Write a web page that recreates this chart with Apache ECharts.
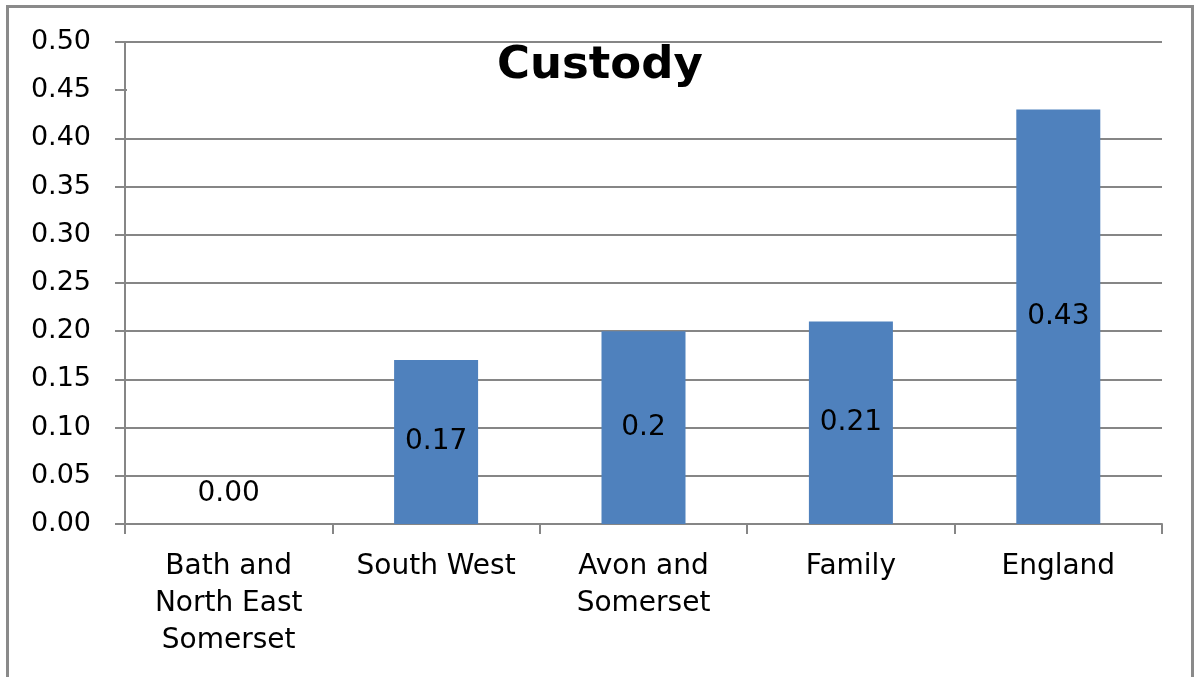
<!DOCTYPE html>
<html>
<head>
<meta charset="utf-8">
<script src="https://cdn.jsdelivr.net/npm/echarts@6/dist/echarts.min.js"></script>
<style>
  html, body { margin: 0; padding: 0; background: #fff; }
  #frame {
    position: absolute; left: 6px; top: 5px; width: 1188px; height: 690px;
    border: 3px solid #8a8a8a; box-sizing: border-box;
  }
  #chart { position: absolute; left: 0; top: 0; width: 1203px; height: 677px; }
</style>
</head>
<body>
<div id="frame"></div>
<div id="chart"></div>
<script>
const categories = ['Bath and\nNorth East\nSomerset', 'South West', 'Avon and\nSomerset', 'Family', 'England'];
const custodyValues = [0.00, 0.17, 0.2, 0.21, 0.43];
const valueLabels = ['0.00', '0.17', '0.2', '0.21', '0.43'];

const FONT = 'DejaVu Sans';

const chart = echarts.init(document.getElementById('chart'));
chart.setOption({
  animation: false,
  backgroundColor: 'transparent',
  // the title box is white and spans the plot width, hiding the 0.45 gridline as in the original
  title: {
    text: 'Custody',
    left: 127,
    top: 44,
    padding: [0, 466, 6, 370],
    backgroundColor: '#fff',
    textStyle: { fontFamily: FONT, fontSize: 45, fontWeight: 'bold', color: '#000' }
  },
  grid: { left: 125, right: 41, top: 42, bottom: 153, containLabel: false },
  xAxis: {
    type: 'category',
    data: categories,
    axisLine: { lineStyle: { color: '#868686', width: 2 } },
    axisTick: { show: true, length: 10, lineStyle: { color: '#868686', width: 2 } },
    axisLabel: {
      fontFamily: FONT, fontSize: 28, color: '#000', lineHeight: 37, margin: 24, interval: 0
    }
  },
  yAxis: {
    type: 'value',
    min: 0,
    max: 0.5,
    interval: 0.05,
    axisLine: { show: true, lineStyle: { color: '#868686', width: 2 } },
    axisTick: { show: true, length: 10, lineStyle: { color: '#868686', width: 2 } },
    splitLine: { lineStyle: { color: '#868686', width: 2 } },
    axisLabel: {
      fontFamily: FONT, fontSize: 27, color: '#000', margin: 34,
      formatter: v => v.toFixed(2)
    }
  },
  series: [{
    type: 'bar',
    barWidth: 84,
    itemStyle: { color: '#4f81bd' },
    label: {
      show: true,
      position: 'inside',
      fontFamily: FONT, fontSize: 28, color: '#000',
      formatter: p => valueLabels[p.dataIndex]
    },
    data: custodyValues.map((v, i) => v === 0
      ? { value: v, label: { position: 'top', distance: 16 } }
      : v)
  }]
});
</script>
</body>
</html>
